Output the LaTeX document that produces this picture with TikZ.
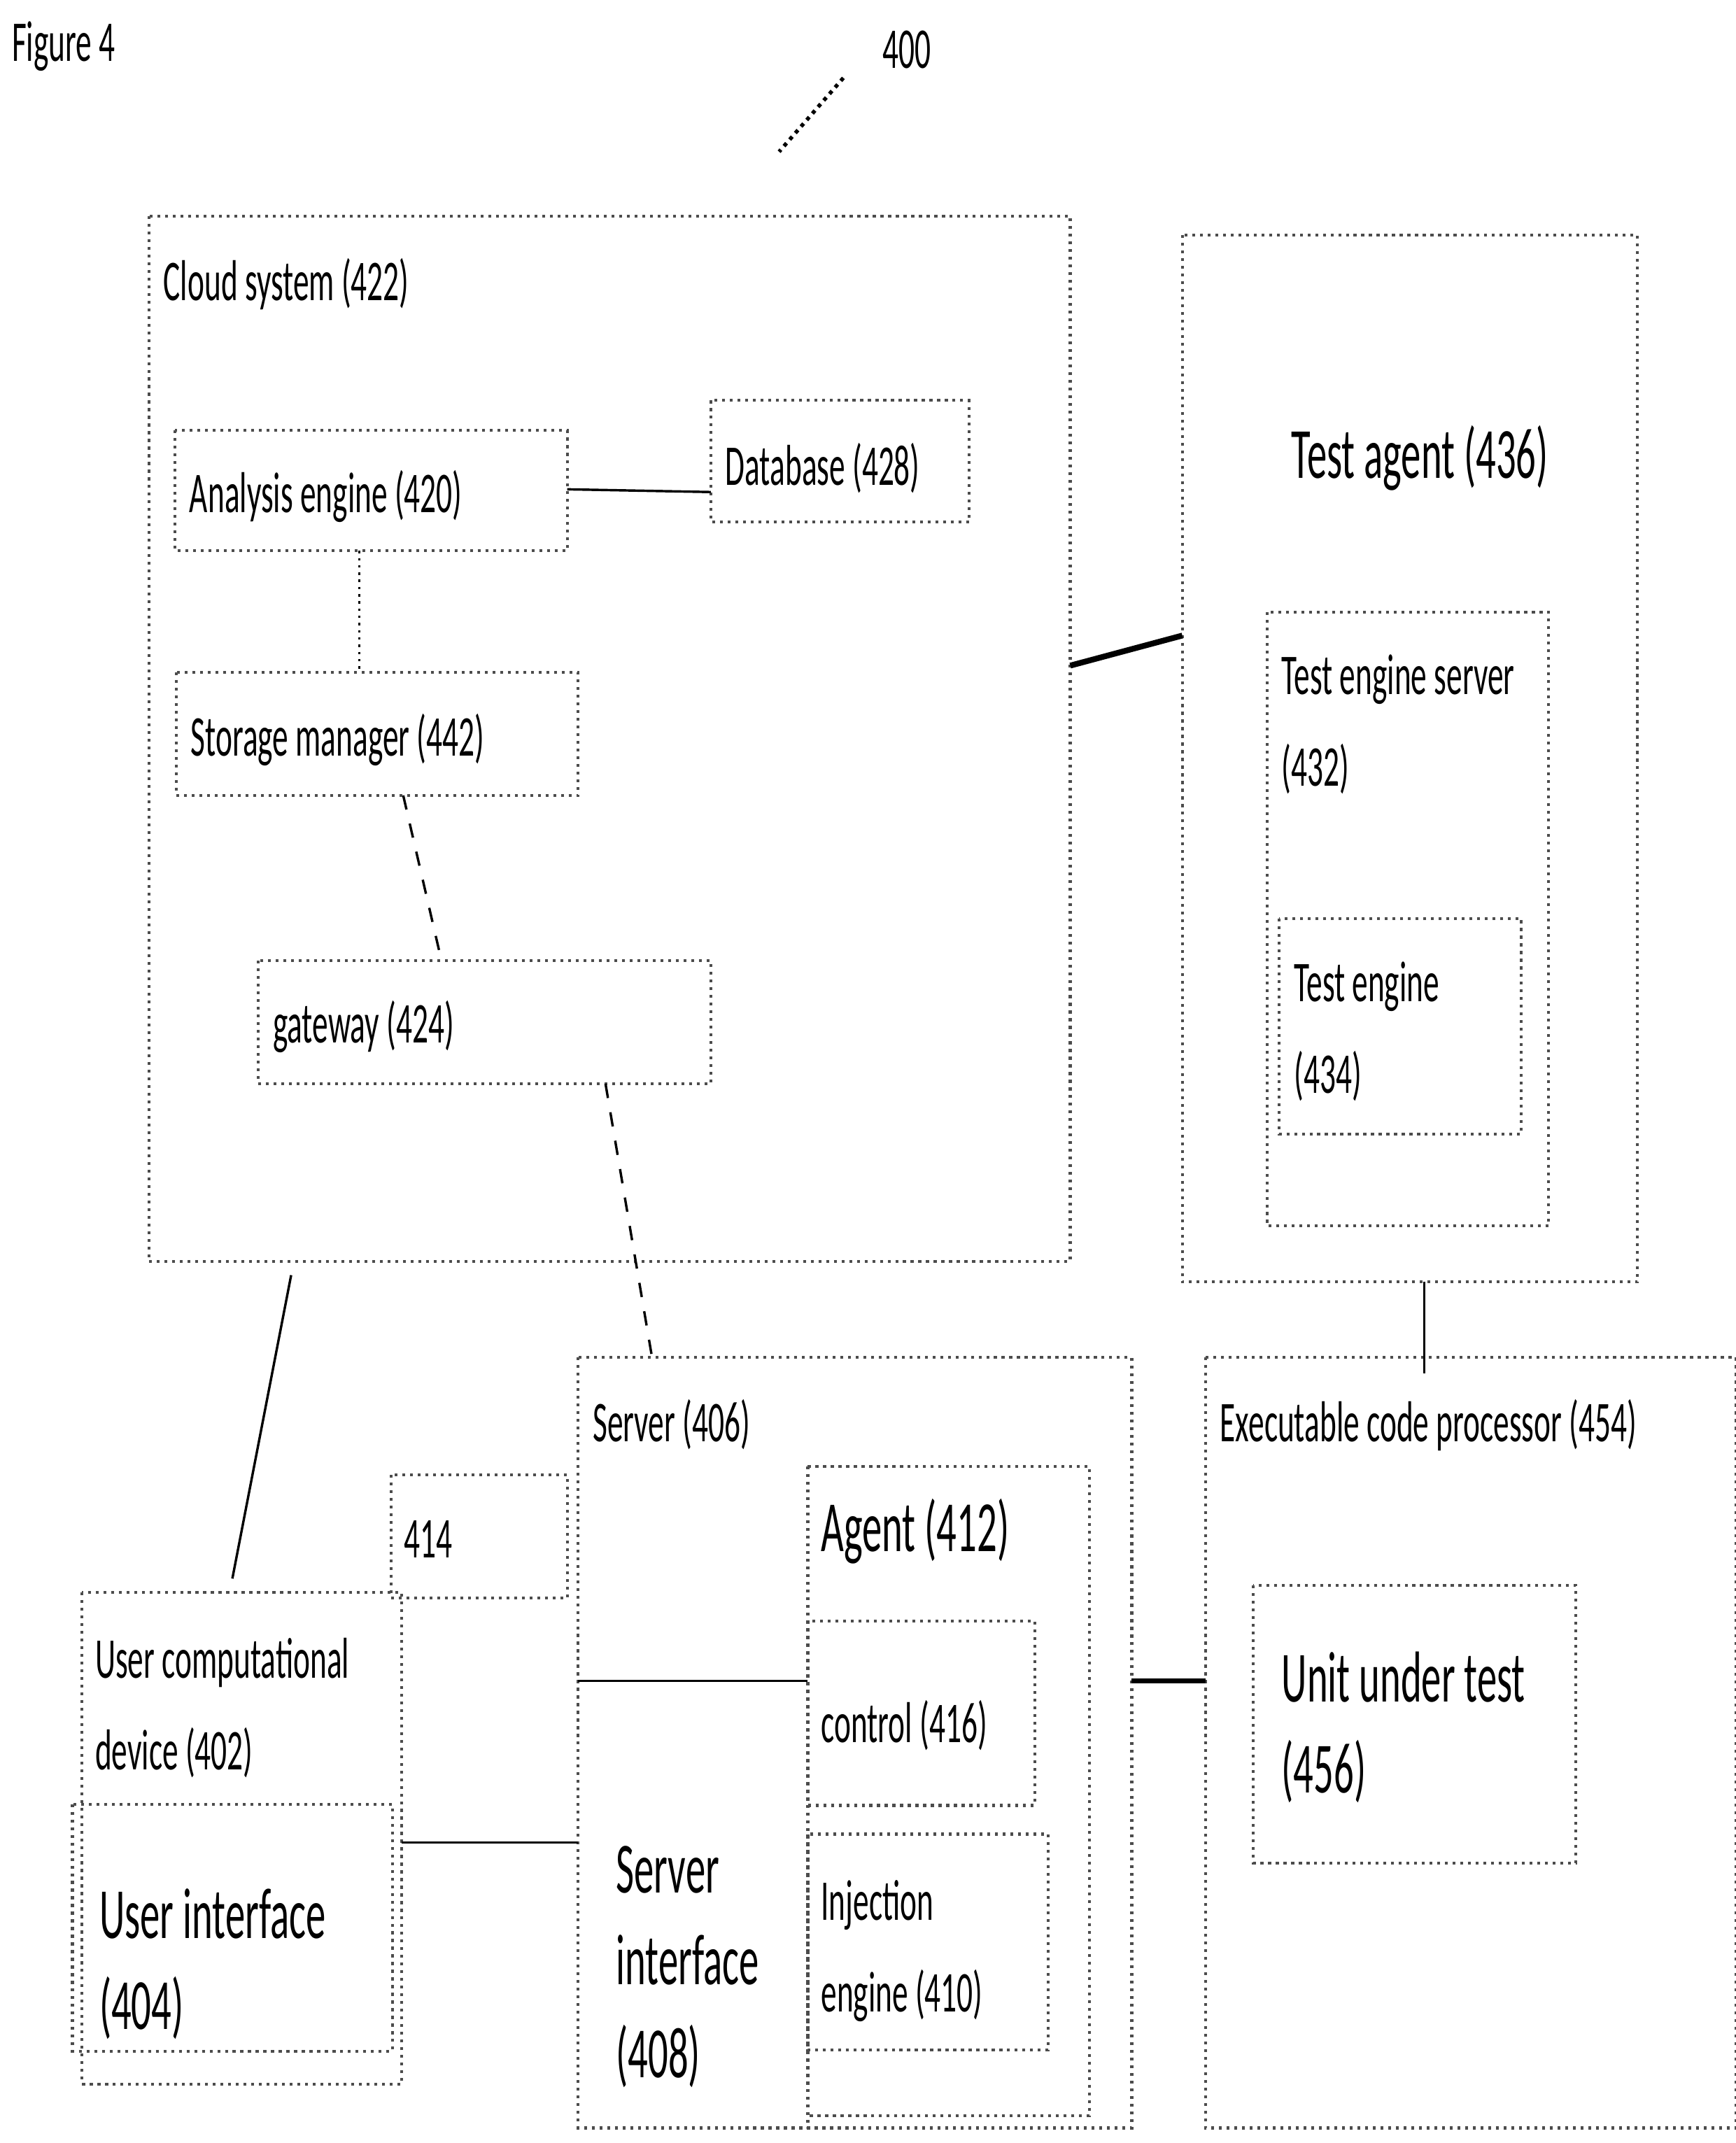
\documentclass[tikz,border=0pt]{standalone}
\usepackage{fontspec}
\setmainfont{Carlito}[FakeStretch=0.55]
\begin{document}
\begin{tikzpicture}[x=0.01cm,y=-0.01cm,
    box/.style={draw=black!70, densely dotted, line width=0.6pt},
    lbl/.style={anchor=base west, font=\fontsize{12}{14}\selectfont, inner sep=0pt},
    big/.style={anchor=base west, font=\fontsize{15}{18}\selectfont, inner sep=0pt},
    link/.style={draw, line width=0.5pt}]

    % page
    \useasboundingbox (0,0) rectangle (1270,1568);

    \node[lbl] (fig) at (8,45) {Figure 4};
    \node[lbl] (num) at (645,50) {400};
    \draw[densely dotted, line width=0.8pt] (617,57) -- (570,111);

    % cloud side
    \draw[box] (109,158) rectangle (783,923);
    \node[lbl] (cloud) at (119,220) {Cloud system (422)};
    \draw[box] (128,315) rectangle (415,403);
    \node[lbl] (ana) at (138,375) {Analysis engine (420)};
    \draw[box] (520,293) rectangle (709,382);
    \node[lbl] (db) at (530,355) {Database (428)};
    \draw[box] (129,492) rectangle (423,582);
    \node[lbl] (sto) at (139,553) {Storage manager (442)};
    \draw[box] (189,703) rectangle (520,793);
    \node[lbl] (gw) at (199,763) {gateway (424)};

    % test agent
    \draw[box] (865,172) rectangle (1198,938);
    \node[big] (ta) at (944,350) {Test agent (436)};
    \draw[box] (927,448) rectangle (1133,897);
    \node[lbl] (tes1) at (937,508) {Test engine server};
    \node[lbl] (tes2) at (937,575) {(432)};
    \draw[box] (936,672) rectangle (1113,830);
    \node[lbl] (te1) at (946,733) {Test engine};
    \node[lbl] (te2) at (946,800) {(434)};

    % server
    \draw[box] (423,993) rectangle (828,1557);
    \node[lbl] (srv) at (433,1055) {Server (406)};
    \draw[box] (591,1073) -- (797,1073) -- (797,1548) -- (591,1548);
    \draw[box] (591,1073) -- (591,1557);
    \node[big] (ag) at (600,1135) {Agent (412)};
    \draw[box] (591,1186) rectangle (757,1321);
    \node[lbl] (ctl) at (600,1275) {control (416)};
    \draw[box] (591,1342) rectangle (767,1500);
    \node[lbl] (inj1) at (600,1405) {Injection};
    \node[lbl] (inj2) at (600,1472) {engine (410)};
    \draw[link] (423,1230) -- (591,1230);
    \node[big] (si1) at (450,1385) {Server};
    \node[big] (si2) at (450,1452) {interface};
    \node[big] (si3) at (450,1520) {(408)};

    % 414
    \draw[box] (286,1079) rectangle (415,1169);
    \node[lbl] (n414) at (295,1140) {414};

    % user device
    \draw[box] (60,1165) rectangle (294,1525);
    \node[lbl] (ucd1) at (69,1228) {User computational};
    \node[lbl] (ucd2) at (69,1295) {device (402)};
    \draw[box] (53,1320) rectangle (287,1501);
    \node[big] (ui1) at (72,1418) {User interface};
    \node[big] (ui2) at (72,1485) {(404)};

    % executable code processor
    \draw[box] (882,993) -- (1270,993);
    \draw[box] (882,993) rectangle (1270,1557);
    \node[lbl] (ecp) at (892,1055) {Executable code processor (454)};
    \draw[box] (917,1160) rectangle (1153,1363);
    \node[big] (uut1) at (937,1245) {Unit under test};
    \node[big] (uut2) at (937,1312) {(456)};

    % connectors
    \draw[link] (415,358) -- (520,360);
    \draw[link, densely dotted] (263,403) -- (263,492);
    \draw[link, dashed] (295,582) -- (323,703);
    \draw[link, dashed] (443,793) -- (477,993);
    \draw[link] (213,933) -- (170,1155);
    \draw[line width=1.2pt] (783,487) -- (865,465);
    \draw[link] (1042,938) -- (1042,1005);
    \draw[link] (294,1348) -- (423,1348);
    \draw[line width=1pt] (828,1230) -- (882,1230);

\end{tikzpicture}
\end{document}
